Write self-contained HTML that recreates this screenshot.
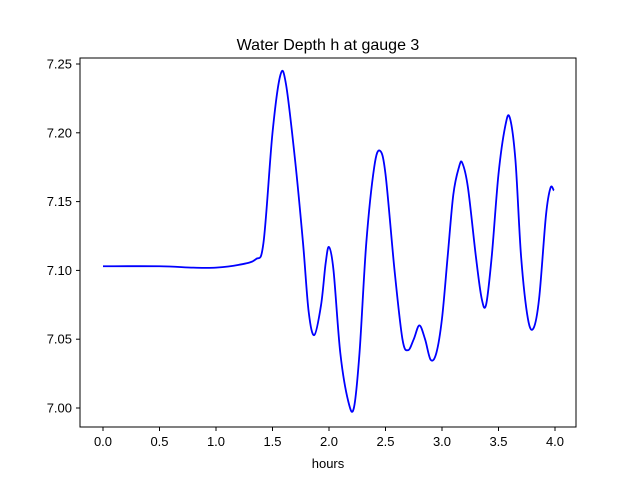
<!DOCTYPE html>
<html><head><meta charset="utf-8"><style>
body{margin:0;background:#fff;}
svg{display:block;font-family:"Liberation Sans","DejaVu Sans",sans-serif;}
</style></head><body>
<svg id="chart" width="640" height="480">
<rect width="640" height="480" fill="#fff"/>
<text x="328" y="50" font-size="16" text-anchor="middle">Water Depth h at gauge 3</text>
<g id="ticks"></g>
<path id="line" fill="none" stroke="#0000ff" stroke-width="1.8"/>
<rect x="80" y="58" width="496" height="369" fill="none" stroke="#000" stroke-width="1"/>
<text x="328" y="468" font-size="13" text-anchor="middle">hours</text>
</svg>
<script>
const hours=[0,0.5,0.8,1.0,1.2,1.35,1.42,1.5,1.57,1.62,1.7,1.77,1.82,1.87,1.93,1.97,2.0,2.04,2.1,2.17,2.22,2.27,2.33,2.4,2.45,2.5,2.58,2.65,2.7,2.75,2.8,2.85,2.9,2.95,3.0,3.05,3.1,3.15,3.18,3.23,3.3,3.35,3.39,3.44,3.5,3.56,3.6,3.65,3.7,3.76,3.81,3.86,3.92,3.96,3.99];
const depth=[7.103,7.103,7.102,7.102,7.104,7.108,7.12,7.20,7.242,7.235,7.18,7.12,7.07,7.053,7.075,7.105,7.117,7.10,7.04,7.005,7.0,7.04,7.12,7.175,7.187,7.17,7.10,7.05,7.042,7.05,7.06,7.05,7.035,7.04,7.065,7.11,7.155,7.175,7.178,7.16,7.11,7.08,7.075,7.11,7.17,7.205,7.211,7.18,7.11,7.065,7.058,7.08,7.14,7.16,7.158];
const xTicks=[0,0.5,1,1.5,2,2.5,3,3.5,4];
const yTicks=[7.00,7.05,7.10,7.15,7.20,7.25];
const X=v=>103+v*113;
const Y=v=>408-(v-7.0)/0.05*68.8;
const NS="http://www.w3.org/2000/svg";
const g=document.getElementById('ticks');
function mk(t,a){const e=document.createElementNS(NS,t);for(const k in a)e.setAttribute(k,a[k]);g.appendChild(e);return e;}
xTicks.forEach(v=>{
 const l=mk('line',{x1:X(v),x2:X(v),y1:427,y2:431,stroke:'#000'});
 
 
 const t=mk('text',{x:X(v),y:446,'font-size':13,'text-anchor':'middle'});
 t.textContent=v.toFixed(1);
 
 
});
yTicks.forEach(v=>{
 const l=mk('line',{x1:76,x2:80,y1:Y(v),y2:Y(v),stroke:'#000'});
 
 
 const t=mk('text',{x:72,y:Y(v)+4.5,'font-size':13,'text-anchor':'end'});
 t.textContent=v.toFixed(2);
 
 
});
// smooth path via Catmull-Rom
const P=hours.map((h,i)=>[X(h),Y(depth[i])]);
let d='M'+P[0][0]+','+P[0][1];
for(let i=0;i<P.length-1;i++){
 const p0=P[Math.max(0,i-1)],p1=P[i],p2=P[i+1],p3=P[Math.min(P.length-1,i+2)];
 const c1=[p1[0]+(p2[0]-p0[0])/6,p1[1]+(p2[1]-p0[1])/6];
 const c2=[p2[0]-(p3[0]-p1[0])/6,p2[1]-(p3[1]-p1[1])/6];
 d+=` C${c1[0]},${c1[1]} ${c2[0]},${c2[1]} ${p2[0]},${p2[1]}`;
}
document.getElementById('line').setAttribute('d',d);
</script>
</body></html>
